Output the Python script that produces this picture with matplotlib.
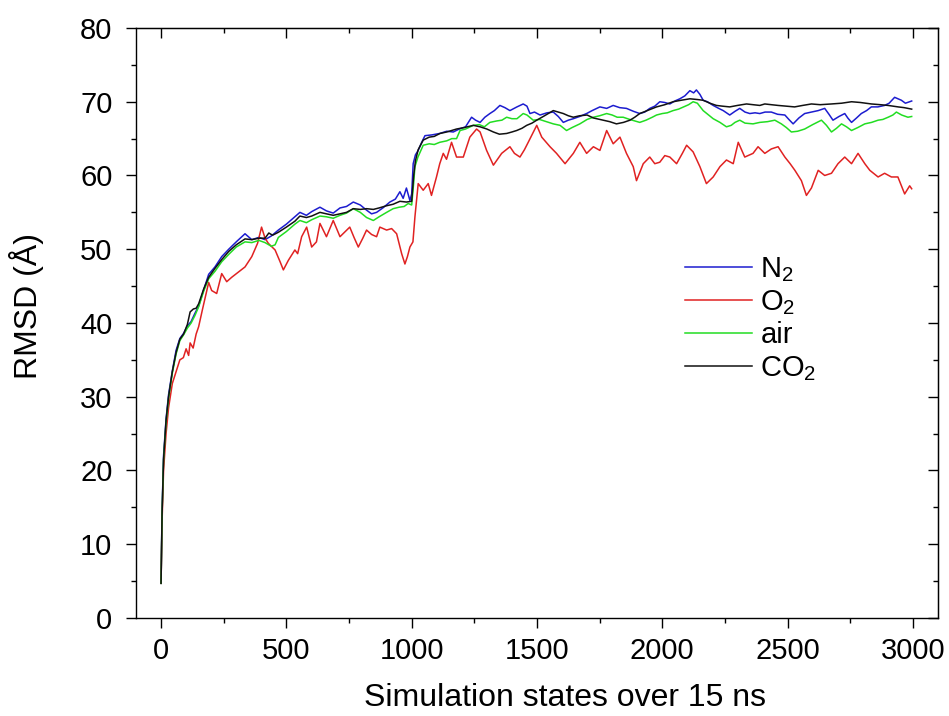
import numpy as np
import matplotlib.pyplot as plt
from matplotlib.ticker import MultipleLocator

plt.rcParams['font.family'] = ['Liberation Sans', 'DejaVu Sans']
plt.rcParams['mathtext.fontset'] = 'custom'
plt.rcParams['mathtext.rm'] = 'Liberation Sans'

# N2
n2_states = [0, 4, 10, 20, 30, 45, 60, 75, 90, 105, 120, 135, 150, 170, 190, 215, 242, 270, 300, 335,
             362, 390, 415, 440, 468, 500, 534, 554, 580, 601, 634, 660, 687, 714, 740, 767, 795, 820,
             840, 860, 885, 913, 935, 953, 966, 979, 993, 1000, 1006, 1015, 1026, 1040, 1053, 1080,
             1112, 1140, 1166, 1190, 1215, 1239, 1255, 1273, 1292, 1312, 1330, 1352, 1372, 1392, 1420,
             1445, 1460, 1472, 1490, 1512, 1540, 1565, 1585, 1605, 1625, 1645, 1670, 1698, 1720, 1751,
             1778, 1804, 1830, 1857, 1885, 1910, 1930, 1950, 1970, 1990, 2010, 2030, 2050, 2070, 2090,
             2110, 2125, 2136, 2150, 2163, 2180, 2203, 2225, 2243, 2269, 2290, 2309, 2330, 2349, 2370,
             2389, 2410, 2435, 2460, 2489, 2505, 2522, 2545, 2568, 2595, 2622, 2648, 2665, 2681, 2705,
             2728, 2740, 2755, 2775, 2794, 2815, 2834, 2860, 2887, 2905, 2927, 2940, 2954, 2970, 2995]
n2_rmsd = [4.7, 14.5, 22, 27, 30.3, 33.5, 36.3, 37.9, 38.6, 39.6, 40.2, 41.3, 42.3, 44.5, 46.6, 47.6, 49,
           50, 51, 52.1, 51.3, 51.6, 51.3, 51.8, 52.6, 53.4, 54.4, 55.0, 54.6, 55.1, 55.7, 55.2, 54.9,
           55.6, 55.8, 56.4, 56.0, 55.3, 54.8, 55.0, 55.6, 56.4, 56.8, 57.8, 56.9, 58.3, 56.6, 57.5,
           61.6, 62.8, 63.4, 64.5, 65.4, 65.5, 65.7, 66.0, 65.9, 66.3, 66.6, 67.9, 67.5, 67.2, 67.9,
           68.4, 68.8, 69.5, 69.2, 68.8, 69.3, 69.7, 69.4, 68.4, 68.6, 68.2, 68.5, 68.6, 68.0, 67.2,
           67.5, 67.7, 68.0, 68.4, 68.8, 69.3, 69.1, 69.5, 69.2, 69.1, 68.7, 68.4, 68.6, 69.1, 69.4,
           70.0, 69.9, 69.7, 70.1, 70.4, 70.8, 71.5, 71.2, 71.6, 71.0, 70.2, 70.0, 69.5, 69.1, 68.8,
           68.2, 68.7, 69.1, 68.6, 68.4, 68.5, 68.4, 68.6, 68.6, 68.3, 68.2, 67.6, 67.0, 67.8, 68.4,
           68.6, 68.8, 69.1, 68.3, 67.5, 68.0, 68.4, 67.8, 67.2, 67.8, 68.4, 68.8, 69.3, 69.3, 69.5,
           69.8, 70.6, 70.4, 70.2, 69.8, 70.1]

# O2
o2_states = [0, 4, 10, 20, 30, 45, 60, 75, 89, 100, 110, 116, 128, 140, 150, 165, 180, 190, 202, 222,
             242, 262, 282, 305, 335, 362, 385, 401, 415, 428, 455, 475, 488, 508, 534, 545, 561, 581,
             601, 620, 634, 660, 687, 714, 735, 753, 770, 787, 805, 820, 840, 860, 873, 900, 920, 940,
             960, 973, 983, 993, 1005, 1013, 1026, 1046, 1066, 1079, 1099, 1112, 1126, 1139, 1159,
             1179, 1206, 1232, 1259, 1273, 1299, 1326, 1359, 1392, 1410, 1432, 1450, 1465, 1499, 1519,
             1552, 1578, 1612, 1645, 1671, 1698, 1725, 1751, 1778, 1804, 1831, 1857, 1884, 1897, 1924,
             1950, 1970, 1990, 2010, 2030, 2057, 2080, 2097, 2123, 2150, 2176, 2203, 2230, 2256, 2283,
             2303, 2329, 2362, 2382, 2409, 2435, 2462, 2489, 2510, 2529, 2555, 2575, 2595, 2622, 2648,
             2675, 2701, 2728, 2755, 2781, 2808, 2828, 2861, 2887, 2914, 2940, 2967, 2987, 2995]
o2_rmsd = [4.7, 13, 20, 25, 28.5, 31.8, 33.4, 35.0, 35.3, 36.5, 35.6, 37.3, 36.6, 38.5, 39.5, 41.8, 44.0,
           45.5, 44.4, 44.0, 46.7, 45.6, 46.2, 46.8, 47.6, 49.0, 50.8, 53.0, 51.5, 50.8, 49.9, 48.3,
           47.2, 48.5, 49.9, 49.4, 51.7, 53.0, 50.3, 51.0, 53.5, 51.7, 53.9, 51.7, 52.4, 53.0, 51.6,
           50.3, 51.5, 52.6, 52.0, 51.7, 53.0, 52.6, 52.8, 52.1, 49.4, 48.0, 49.0, 50.3, 51.0, 54.4,
           58.9, 58.0, 58.9, 57.3, 59.8, 61.6, 63.0, 62.2, 64.5, 62.5, 62.5, 65.2, 66.3, 65.9, 63.4,
           61.4, 63.0, 63.9, 63.0, 62.5, 63.5, 64.5, 66.8, 65.2, 63.9, 63.0, 61.6, 63.0, 64.5, 63.0,
           63.9, 63.4, 66.1, 64.3, 65.2, 63.0, 61.2, 59.3, 61.6, 62.5, 61.6, 61.8, 62.7, 62.5, 61.6,
           63.0, 64.1, 63.2, 61.2, 58.9, 59.8, 61.2, 62.1, 61.6, 64.5, 62.5, 63.0, 63.9, 63.0, 63.6,
           63.9, 62.5, 61.6, 60.7, 59.3, 57.3, 58.3, 60.7, 60.0, 60.3, 61.6, 62.5, 61.6, 63.0, 61.6,
           60.7, 59.8, 60.3, 59.8, 59.8, 57.5, 58.6, 58.2]

# air
air_states = [0, 4, 10, 20, 30, 45, 60, 75, 90, 105, 120, 135, 150, 170, 190, 215, 242, 270, 300, 335,
              362, 390, 415, 440, 455, 468, 500, 534, 554, 580, 601, 634, 660, 687, 714, 740, 767, 795,
              820, 847, 870, 900, 926, 950, 970, 986, 1000, 1008, 1013, 1025, 1046, 1070, 1090, 1112,
              1140, 1160, 1179, 1193, 1215, 1246, 1270, 1290, 1312, 1340, 1360, 1379, 1400, 1420, 1445,
              1460, 1485, 1510, 1538, 1565, 1592, 1618, 1640, 1671, 1700, 1725, 1750, 1778, 1800, 1820,
              1844, 1870, 1890, 1910, 1935, 1960, 1977, 2000, 2020, 2043, 2065, 2085, 2105, 2123, 2140,
              2163, 2185, 2203, 2230, 2256, 2275, 2290, 2309, 2330, 2362, 2389, 2420, 2449, 2475, 2495,
              2515, 2540, 2568, 2600, 2635, 2655, 2675, 2695, 2715, 2735, 2755, 2780, 2808, 2835, 2861,
              2880, 2901, 2920, 2934, 2955, 2980, 2995]
air_rmsd = [4.7, 14, 21.5, 26.5, 29.8, 33.2, 35.8, 37.6, 38.4, 39.3, 40.0, 41.0, 42.2, 44.3, 46.0, 47.0,
            48.3, 49.3, 50.3, 51.0, 50.9, 51.2, 50.9, 50.4, 50.6, 51.6, 52.4, 53.4, 53.9, 53.6, 54.0,
            54.5, 54.4, 54.2, 54.6, 54.9, 55.5, 55.0, 54.3, 53.9, 54.4, 55.0, 55.5, 55.7, 55.8, 56.2,
            56.0, 59.0, 61.2, 62.5, 64.1, 64.3, 64.2, 64.5, 64.7, 65.0, 65.0, 66.1, 66.3, 66.8, 66.9,
            66.6, 67.2, 67.4, 67.5, 67.9, 67.7, 67.7, 68.4, 68.2, 67.5, 67.6, 67.3, 67.0, 66.8, 66.1,
            66.5, 67.0, 67.6, 67.9, 68.1, 68.4, 68.2, 67.9, 67.9, 67.6, 67.4, 67.2, 67.5, 67.9, 68.2,
            68.4, 68.5, 68.8, 69.0, 69.3, 69.6, 70.0, 69.8, 68.8, 68.2, 67.7, 67.2, 66.6, 66.8, 67.2,
            67.5, 67.1, 67.0, 67.2, 67.3, 67.5, 67.0, 66.5, 65.9, 66.0, 66.3, 66.9, 67.5, 66.8, 65.9,
            66.4, 67.0, 66.6, 66.1, 66.5, 67.0, 67.2, 67.5, 67.6, 67.9, 68.2, 68.6, 68.2, 67.9, 68.0]

# CO2
co2_states = [0, 4, 10, 20, 30, 45, 60, 75, 90, 105, 116, 129, 140, 150, 170, 190, 215, 242, 270, 300,
              335, 362, 390, 415, 430, 445, 468, 500, 534, 554, 580, 601, 634, 660, 687, 714, 740, 767,
              795, 820, 847, 870, 900, 926, 953, 979, 1000, 1008, 1015, 1026, 1046, 1070, 1090, 1113,
              1140, 1179, 1210, 1246, 1273, 1300, 1326, 1350, 1379, 1400, 1419, 1440, 1459, 1480, 1499,
              1530, 1565, 1585, 1605, 1625, 1645, 1670, 1700, 1725, 1764, 1790, 1817, 1845, 1871, 1890,
              1910, 1940, 1977, 2010, 2043, 2075, 2110, 2140, 2163, 2190, 2216, 2240, 2269, 2300, 2336,
              2362, 2389, 2409, 2435, 2462, 2495, 2528, 2560, 2595, 2630, 2675, 2715, 2755, 2790, 2834,
              2870, 2901, 2941, 2965, 2995]
co2_rmsd = [4.7, 14, 21.5, 26.8, 30.0, 33.4, 36.0, 37.8, 38.5, 39.8, 41.5, 41.9, 42.0, 42.6, 44.6, 46.2,
            47.4, 48.6, 49.7, 50.6, 51.4, 51.3, 51.5, 51.5, 52.2, 51.9, 52.3, 53.0, 53.8, 54.5, 54.3,
            54.5, 55.0, 54.8, 54.6, 54.8, 55.0, 55.5, 55.4, 55.5, 55.4, 55.6, 55.9, 56.1, 56.5, 56.4,
            56.5, 60.0, 62.0, 63.5, 64.8, 65.2, 65.3, 65.7, 65.9, 66.3, 66.5, 66.8, 66.6, 66.3, 65.9,
            65.6, 65.7, 65.9, 66.1, 66.4, 66.8, 67.1, 67.5, 68.1, 68.8, 68.6, 68.4, 68.1, 67.9, 68.1,
            68.2, 67.8, 67.5, 67.3, 67.0, 67.2, 67.5, 67.9, 68.4, 68.8, 69.3, 69.6, 70.0, 70.2, 70.4,
            70.3, 70.2, 69.8, 69.5, 69.4, 69.3, 69.5, 69.7, 69.6, 69.5, 69.7, 69.6, 69.5, 69.4, 69.3,
            69.5, 69.7, 69.6, 69.7, 69.8, 70.0, 69.9, 69.7, 69.6, 69.5, 69.3, 69.2, 69.0]

labels = [r'N$_\mathregular{2}$', r'O$_\mathregular{2}$', 'air', r'CO$_\mathregular{2}$']

fig = plt.figure(figsize=(9.49, 7.16), dpi=100)
ax = fig.add_axes([0.1433, 0.1369, 0.8451, 0.824])

ax.plot(n2_states, n2_rmsd, color='#1c1ccf', lw=1.1, label=labels[0])
ax.plot(o2_states, o2_rmsd, color='#e02222', lw=1.1, label=labels[1])
ax.plot(air_states, air_rmsd, color='#22dd22', lw=1.1, label=labels[2])
ax.plot(co2_states, co2_rmsd, color='#111111', lw=1.1, label=labels[3])

ax.set_xlim(-100, 3100)
ax.set_ylim(0, 80)
ax.xaxis.set_major_locator(MultipleLocator(500))
ax.xaxis.set_minor_locator(MultipleLocator(250))
ax.yaxis.set_major_locator(MultipleLocator(10))
ax.yaxis.set_minor_locator(MultipleLocator(5))
ax.tick_params(which='major', direction='out', length=7, width=1, labelsize=21)
ax.tick_params(axis='x', which='major', pad=7)
ax.tick_params(axis='y', which='major', pad=10)
ax.tick_params(which='minor', direction='out', length=3.5, width=1)
for sp in ax.spines.values():
    sp.set_linewidth(1)

# mirrored ticks pointing inward on top and right
top = ax.secondary_xaxis('top')
top.xaxis.set_major_locator(MultipleLocator(500))
top.xaxis.set_minor_locator(MultipleLocator(250))
top.tick_params(which='major', direction='in', length=7, width=1, labeltop=False)
top.tick_params(which='minor', direction='in', length=3.5, width=1)
right = ax.secondary_yaxis('right')
right.yaxis.set_major_locator(MultipleLocator(10))
right.yaxis.set_minor_locator(MultipleLocator(5))
right.tick_params(which='major', direction='in', length=7, width=1, labelright=False)
right.tick_params(which='minor', direction='in', length=3.5, width=1)

ax.set_xlabel('Simulation states over 15 ns', fontsize=23)
ax.xaxis.set_label_coords(0.535, -0.11)
ax.set_ylabel('RMSD (Å)', fontsize=23)
ax.yaxis.set_label_coords(-0.115, 0.529)

ax.legend(loc='upper left', bbox_to_anchor=(0.684, 0.615), frameon=False, fontsize=21,
          handlelength=2.3, handletextpad=0.3, labelspacing=0.15, borderpad=0, borderaxespad=0)

plt.savefig('out.png', dpi=100)
